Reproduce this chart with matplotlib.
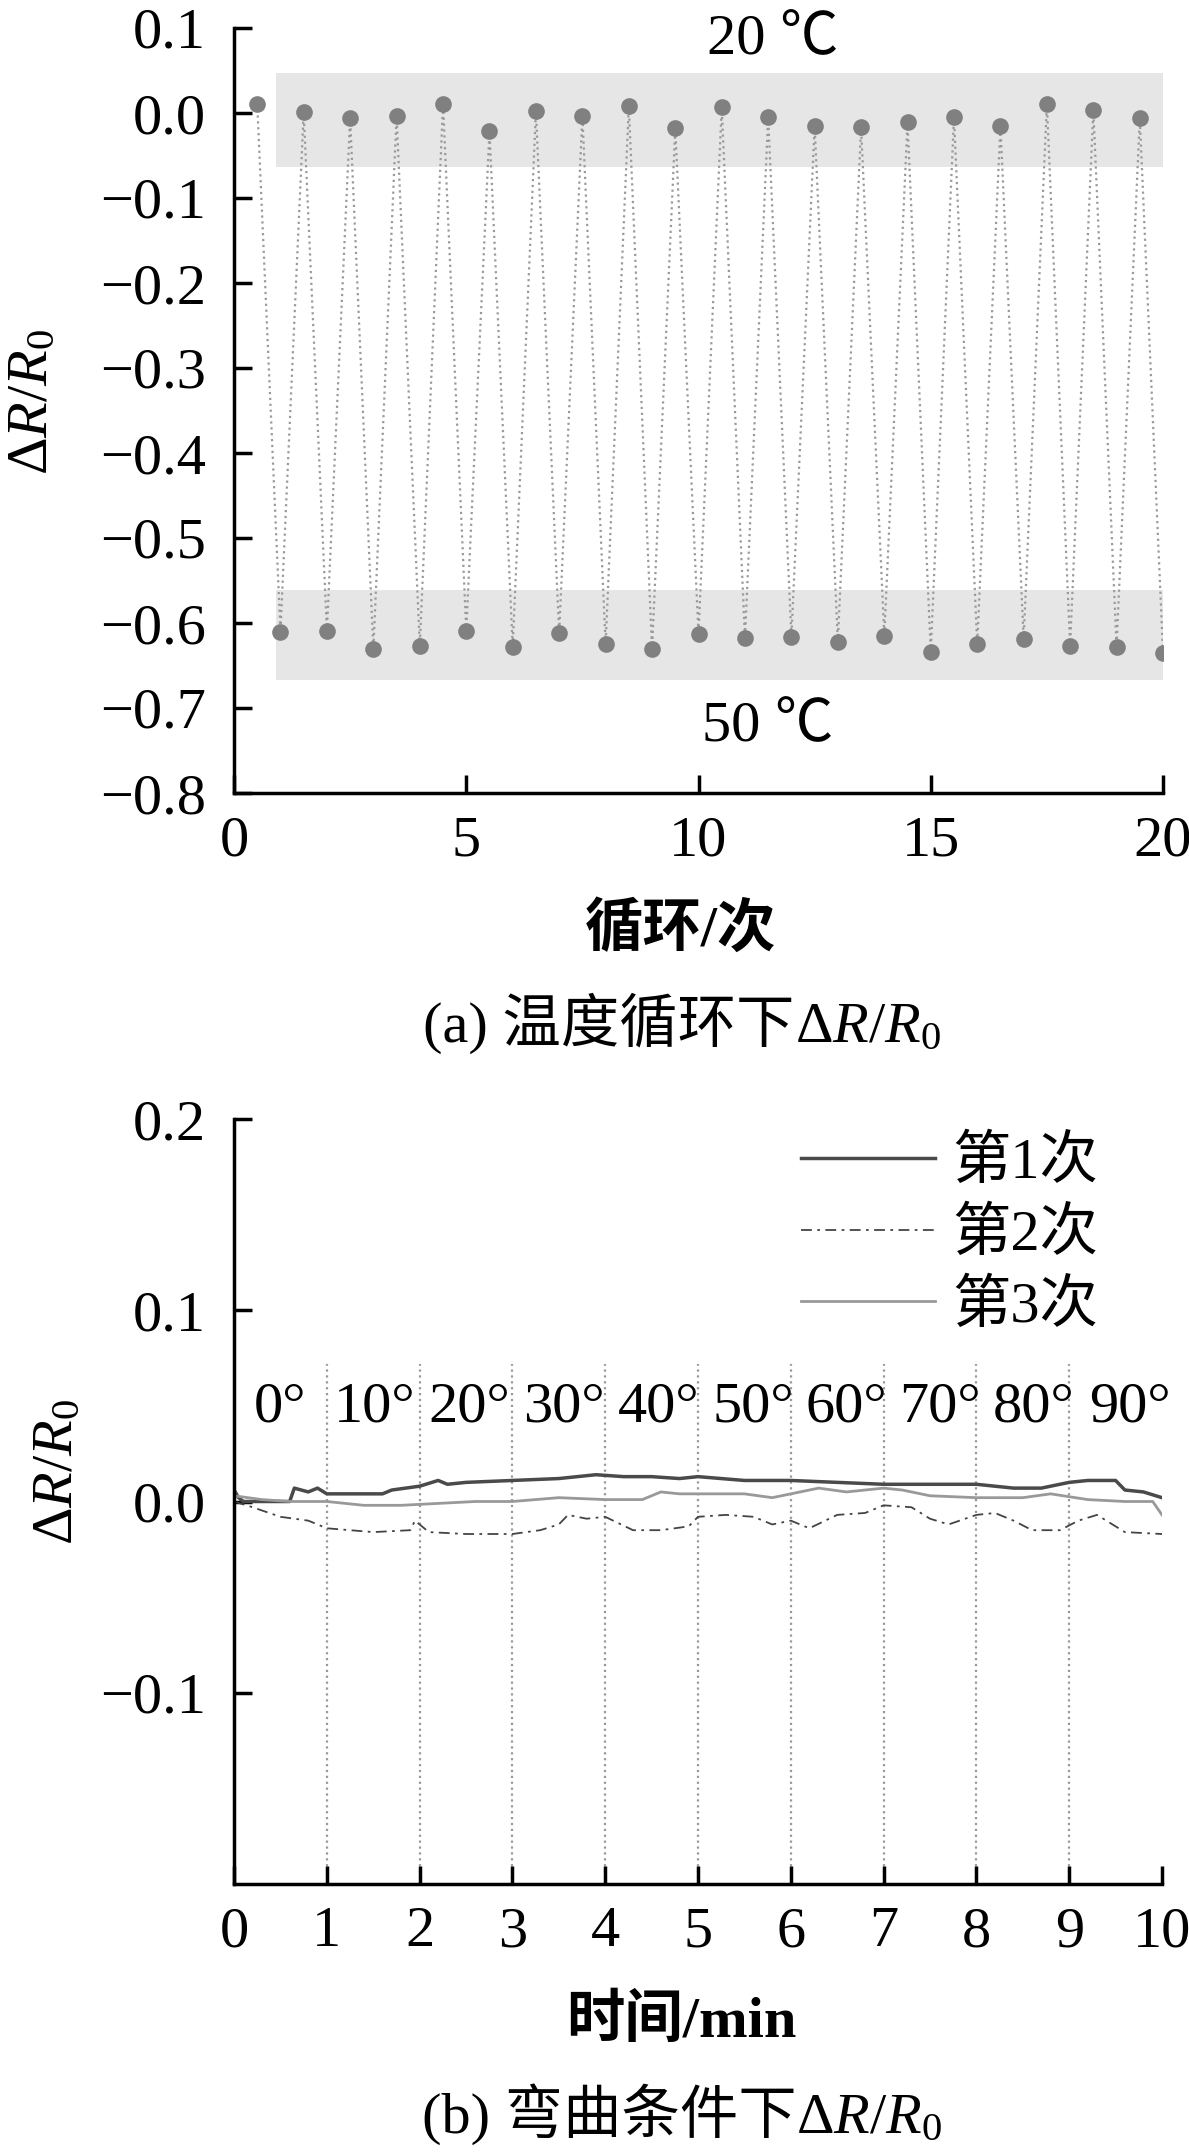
import matplotlib
matplotlib.use("Agg")
import matplotlib.pyplot as plt

plt.rcParams['font.family'] = ['Liberation Serif', 'Noto Sans CJK SC', 'DejaVu Sans']
plt.rcParams['mathtext.fontset'] = 'custom'
plt.rcParams['mathtext.rm'] = 'Liberation Serif'
plt.rcParams['mathtext.it'] = 'Liberation Serif:italic'
plt.rcParams['axes.unicode_minus'] = True

# ---------------- data: panel (a) ----------------
cycle_top_x = [0.5, 1.5, 2.5, 3.5, 4.5, 5.5, 6.5, 7.5, 8.5, 9.5,
               10.5, 11.5, 12.5, 13.5, 14.5, 15.5, 16.5, 17.5, 18.5, 19.5]
cycle_top_y = [0.011, 0.001, -0.006, -0.003, 0.011, -0.021, 0.002, -0.003, 0.008, -0.018,
               0.007, -0.005, -0.015, -0.017, -0.011, -0.005, -0.015, 0.011, 0.004, -0.006]
cycle_bot_x = [1, 2, 3, 4, 5, 6, 7, 8, 9, 10,
               11, 12, 13, 14, 15, 16, 17, 18, 19, 20]
cycle_bot_y = [-0.610, -0.609, -0.631, -0.627, -0.609, -0.628, -0.612, -0.625, -0.631, -0.613,
               -0.618, -0.616, -0.622, -0.615, -0.634, -0.625, -0.619, -0.627, -0.628, -0.635]
band_20 = (0.9, 20.0, -0.064, 0.047)
band_50 = (0.9, 20.0, -0.667, -0.561)
a_yticks = [0.1, 0.0, -0.1, -0.2, -0.3, -0.4, -0.5, -0.6, -0.7, -0.8]
a_xticks = [0, 5, 10, 15, 20]

# ---------------- data: panel (b) ----------------
t1 = [0, 0.05, 0.1, 0.6, 0.65, 0.8, 0.9, 1.0, 1.6, 1.7, 2.0, 2.2, 2.3, 2.5, 3.0, 3.5, 3.9,
      4.2, 4.5, 4.8, 5.0, 5.5, 6.0, 6.5, 7.0, 7.5, 8.0, 8.4, 8.7, 9.0, 9.2, 9.5, 9.6, 9.8, 10.0]
v1 = [0.006, 0.002, 0.0, 0.0, 0.007, 0.005, 0.007, 0.004, 0.004, 0.006, 0.008, 0.011, 0.009,
      0.010, 0.011, 0.012, 0.014, 0.013, 0.013, 0.012, 0.013, 0.011, 0.011, 0.010, 0.009,
      0.009, 0.009, 0.007, 0.007, 0.010, 0.011, 0.011, 0.006, 0.005, 0.002]
t2 = [0, 0.2, 0.5, 0.8, 1.0, 1.5, 1.9, 1.95, 2.1, 2.5, 3.0, 3.3, 3.5, 3.6, 3.8, 4.0, 4.3,
      4.6, 4.9, 5.0, 5.3, 5.6, 5.8, 6.0, 6.2, 6.5, 6.8, 7.0, 7.3, 7.5, 7.7, 8.0, 8.2, 8.4,
      8.6, 8.9, 9.1, 9.3, 9.6, 10.0]
v2 = [0.0, -0.003, -0.008, -0.010, -0.014, -0.016, -0.015, -0.010, -0.016, -0.017, -0.017,
      -0.015, -0.012, -0.007, -0.009, -0.008, -0.015, -0.015, -0.013, -0.008, -0.007, -0.008,
      -0.012, -0.010, -0.014, -0.007, -0.006, -0.002, -0.003, -0.009, -0.012, -0.007, -0.006,
      -0.010, -0.015, -0.015, -0.010, -0.007, -0.016, -0.017]
t3 = [0, 0.3, 0.6, 1.0, 1.4, 1.8, 2.2, 2.6, 3.0, 3.5, 4.0, 4.4, 4.6, 4.8, 5.0, 5.5, 5.8,
      6.0, 6.3, 6.6, 7.0, 7.2, 7.5, 8.0, 8.5, 8.8, 9.2, 9.6, 9.9, 10.0]
v3 = [0.003, 0.001, 0.0, 0.0, -0.002, -0.002, -0.001, 0.0, 0.0, 0.002, 0.001, 0.001, 0.005,
      0.004, 0.004, 0.004, 0.002, 0.004, 0.007, 0.005, 0.007, 0.006, 0.003, 0.002, 0.002,
      0.004, 0.001, 0.0, 0.0, -0.007]
series_labels = ['第1次', '第2次', '第3次']
angle_labels = ['0°', '10°', '20°', '30°', '40°', '50°', '60°', '70°', '80°', '90°']
angle_x = [0.5, 1.52, 2.53, 3.55, 4.58, 5.6, 6.6, 7.61, 8.62, 9.65]
b_vlines = [1, 2, 3, 4, 5, 6, 7, 8, 9]
b_yticks = [-0.1, 0.0, 0.1, 0.2]
b_xticks = list(range(0, 11))

FS = 42
W, H = 1189, 2155
fig = plt.figure(figsize=(W / 100, H / 100), dpi=100)


def style(ax):
    for s in ['top', 'right']:
        ax.spines[s].set_visible(False)
    for s in ['left', 'bottom']:
        ax.spines[s].set_linewidth(2.5)
        ax.spines[s].set_color('black')
    ax.tick_params(direction='in', length=13, width=2.5, labelsize=FS, colors='black')
    ax.tick_params(axis='y', pad=20)
    ax.tick_params(axis='x', pad=16)


def fmt(v):
    return '0.0' if abs(v) < 1e-9 else f'{v:.1f}'.replace('-', '\u2212')


def rich_text(xc_px, base_px, pieces):
    """Place several text pieces side by side on a common baseline, centered at xc_px."""
    objs = [fig.text(0, 1 - base_px / H, s, fontsize=FS, va='baseline', ha='left', **kw)
            for s, kw in pieces]
    r = fig.canvas.get_renderer()
    widths = [o.get_window_extent(r).width for o in objs]
    x = xc_px - sum(widths) / 2
    for o, w in zip(objs, widths):
        o.set_x(x / W)
        x += w


# ---------------- panel (a) ----------------
axa = fig.add_axes([234 / W, 1 - 793 / H, (1163 - 234) / W, (793 - 28) / H])
style(axa)
axa.set_xlim(0, 20)
axa.set_ylim(-0.8, 0.1)
for (x0, x1, y0, y1) in [band_20, band_50]:
    axa.fill_between([x0, x1], [y0, y0], [y1, y1], color='#e6e6e6', lw=0, zorder=0)
zx, zy = [], []
for i in range(len(cycle_top_x)):
    zx += [cycle_top_x[i], cycle_bot_x[i]]
    zy += [cycle_top_y[i], cycle_bot_y[i]]
axa.plot(zx, zy, ls=':', lw=1.6, color='#9a9a9a', zorder=1)
axa.plot(cycle_top_x, cycle_top_y, 'o', ms=12, color='#808080', mec='none', zorder=2)
axa.plot(cycle_bot_x, cycle_bot_y, 'o', ms=12, color='#808080', mec='none', zorder=2)
axa.set_xticks(a_xticks)
axa.set_xticklabels([str(v) for v in a_xticks])
axa.set_yticks(a_yticks)
axa.set_yticklabels([fmt(v) for v in a_yticks])
axa.text(11.6, 0.086, '20 ℃', fontsize=FS, ha='center', va='center')
axa.text(11.5, -0.723, '50 ℃', fontsize=FS, ha='center', va='center')
fig.text(33 / W, 1 - 402 / H, r'$\Delta R/R_0$', fontsize=FS, rotation=90,
         ha='center', va='center')
fig.text(681 / W, 1 - 930 / H, '循环/次', fontsize=FS, ha='center', va='center',
         fontweight='bold')

# ---------------- panel (b) ----------------
axb = fig.add_axes([234 / W, 1 - 1884 / H, (1162 - 234) / W, (1884 - 1119) / H])
style(axb)
axb.set_xlim(0, 10)
axb.set_ylim(-0.2, 0.2)
axb.vlines(b_vlines, -0.2, 0.072, colors='#999999', linestyles=':', lw=1.6, zorder=0)
l1, = axb.plot(t1, v1, '-', color='#4a4a4a', lw=2.5, label=series_labels[0])
l2, = axb.plot(t2, v2, color='#444444', lw=1.3, ls=(0, (6, 3, 1.5, 3)), label=series_labels[1])
l3, = axb.plot(t3, v3, '-', color='#999999', lw=2.0, label=series_labels[2])
for x, s in zip(angle_x, angle_labels):
    axb.text(x, 0.049, s, fontsize=FS, ha='center', va='center')
axb.set_xticks(b_xticks)
axb.set_xticklabels([str(v) for v in b_xticks])
axb.set_yticks(b_yticks)
axb.set_yticklabels([fmt(v) for v in b_yticks])
axb.legend(handles=[l1, l2, l3], loc='upper left', bbox_to_anchor=(0.611, 0.978),
           frameon=False, fontsize=FS, handlelength=2.3, handletextpad=0.3,
           labelspacing=0.3, borderpad=0, borderaxespad=0)
fig.text(58 / W, 1 - 1472 / H, r'$\Delta R/R_0$', fontsize=FS, rotation=90,
         ha='center', va='center')
fig.text(681 / W, 1 - 2022 / H, '时间/min', fontsize=FS, ha='center', va='center',
         fontweight='bold')

# ---------------- captions ----------------
rich_text(682, 1042, [('(a) 温度循环下', {}), (r'$\Delta R/R_0$', {})])
rich_text(682, 2133, [('(b) 弯曲条件下', {}), (r'$\Delta R/R_0$', {})])

fig.savefig('out.png', dpi=100, facecolor='white')
